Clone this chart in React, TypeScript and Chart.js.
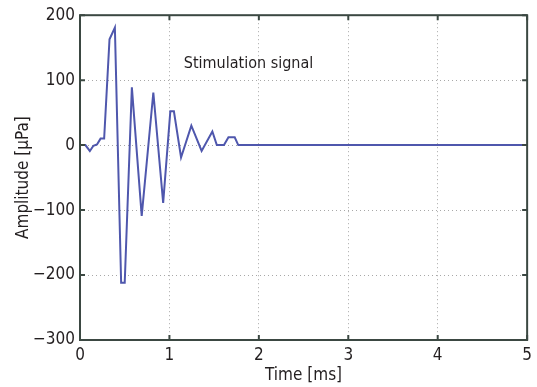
import React, { useEffect, useRef } from 'react';
import { Chart, registerables } from 'chart.js';

Chart.register(...registerables);

// Time axis (ms) and amplitude (µPa)
const timeMs = [0, 0.06, 0.11, 0.15, 0.19, 0.23, 0.27, 0.33, 0.39, 0.46, 0.5, 0.58, 0.69, 0.82, 0.93, 1.01, 1.05, 1.13, 1.245, 1.36, 1.48, 1.53, 1.61, 1.66, 1.73, 1.77, 5];
const amplitude = [0, 0, -9, -1, 1, 10, 10, 163, 181, -212, -212, 89, -109, 81, -89, 52, 52, -19, 30, -9, 21, 0, 0, 12, 12, 0, 0];

const xTicks = [0, 1, 2, 3, 4, 5];
const yTicks = [-300, -200, -100, 0, 100, 200];

const annotationText = 'Stimulation signal';
const annotationAt = { x: 1.16, y: 119 };

const FONT = '"Liberation Sans Narrow", "DejaVu Sans Condensed", "Roboto Condensed", sans-serif';
const TEXT_COLOR = '#231f20';
const AXIS_COLOR = '#3b4842';
const LINE_COLOR = '#4f57ad';

const framePlugin = {
  id: 'frame',
  afterDraw(chart: any) {
    const { ctx, chartArea } = chart;
    const { left, right, top, bottom } = chartArea;
    const xs = chart.scales.x;
    const ys = chart.scales.y;
    ctx.save();
    // annotation text
    ctx.fillStyle = TEXT_COLOR;
    ctx.font = `16px ${FONT}`;
    ctx.textAlign = 'left';
    ctx.textBaseline = 'alphabetic';
    ctx.fillText(annotationText, xs.getPixelForValue(annotationAt.x), ys.getPixelForValue(annotationAt.y));
    // inward tick marks
    ctx.strokeStyle = AXIS_COLOR;
    ctx.lineWidth = 2;
    const tl = 5;
    ctx.beginPath();
    xTicks.forEach((t) => {
      const px = xs.getPixelForValue(t);
      ctx.moveTo(px, bottom);
      ctx.lineTo(px, bottom - tl);
      ctx.moveTo(px, top);
      ctx.lineTo(px, top + tl);
    });
    yTicks.forEach((t) => {
      const py = ys.getPixelForValue(t);
      ctx.moveTo(left, py);
      ctx.lineTo(left + tl, py);
      ctx.moveTo(right, py);
      ctx.lineTo(right - tl, py);
    });
    ctx.stroke();
    // box
    ctx.strokeRect(left, top, right - left, bottom - top);
    ctx.restore();
  },
};

export default function App() {
  const ref = useRef<HTMLCanvasElement | null>(null);

  useEffect(() => {
    document.body.style.margin = '0';
    const canvas = ref.current;
    if (!canvas) return;
    const chart = new Chart(canvas, {
      type: 'line',
      data: {
        datasets: [
          {
            data: timeMs.map((t, i) => ({ x: t, y: amplitude[i] })),
            borderColor: LINE_COLOR,
            borderWidth: 2,
            pointRadius: 0,
            tension: 0,
            fill: false,
          },
        ],
      },
      options: {
        responsive: false,
        animation: false,
        devicePixelRatio: 1,
        layout: { padding: { top: 13, right: 5, left: 0, bottom: 0 } },
        plugins: { legend: { display: false }, tooltip: { enabled: false }, title: { display: false } },
        scales: {
          x: {
            type: 'linear',
            min: 0,
            max: 5,
            afterBuildTicks: (s: any) => {
              s.ticks = xTicks.map((v) => ({ value: v }));
            },
            afterFit: (s: any) => {
              s.height = 47;
            },
            ticks: {
              color: TEXT_COLOR,
              font: { family: FONT, size: 17 },
              padding: 5,
              maxRotation: 0,
            },
            grid: {
              color: (c: any) => (c.tick && (c.tick.value === 0 || c.tick.value === 5) ? 'rgba(0,0,0,0)' : '#a8a8a8'),
              lineWidth: 1,
              drawTicks: false,
            },
            border: { display: false, dash: [1, 3] },
            title: {
              display: true,
              text: 'Time [ms]',
              color: TEXT_COLOR,
              font: { family: FONT, size: 17 },
              padding: { top: 0, bottom: 1 },
            },
          },
          y: {
            type: 'linear',
            min: -300,
            max: 200,
            afterBuildTicks: (s: any) => {
              s.ticks = yTicks.map((v) => ({ value: v }));
            },
            afterFit: (s: any) => {
              s.width = 80;
            },
            ticks: {
              color: TEXT_COLOR,
              font: { family: FONT, size: 17 },
              padding: 5,
              callback: (v: any) => String(v).replace('-', '\u2212'),
            },
            grid: {
              color: (c: any) => (c.tick && (c.tick.value === -300 || c.tick.value === 200) ? 'rgba(0,0,0,0)' : '#a8a8a8'),
              lineWidth: 1,
              drawTicks: false,
            },
            border: { display: false, dash: [1, 3] },
            title: {
              display: true,
              text: 'Amplitude [\u03bcPa]',
              color: TEXT_COLOR,
              font: { family: FONT, size: 17 },
              padding: { top: 13, bottom: 0 },
            },
          },
        },
      },
      plugins: [framePlugin],
    });
    return () => chart.destroy();
  }, []);

  return (
    <div style={{ width: 537, height: 387, background: '#ffffff' }}>
      <canvas ref={ref} width={537} height={387} style={{ width: 537, height: 387, display: 'block' }} />
    </div>
  );
}
